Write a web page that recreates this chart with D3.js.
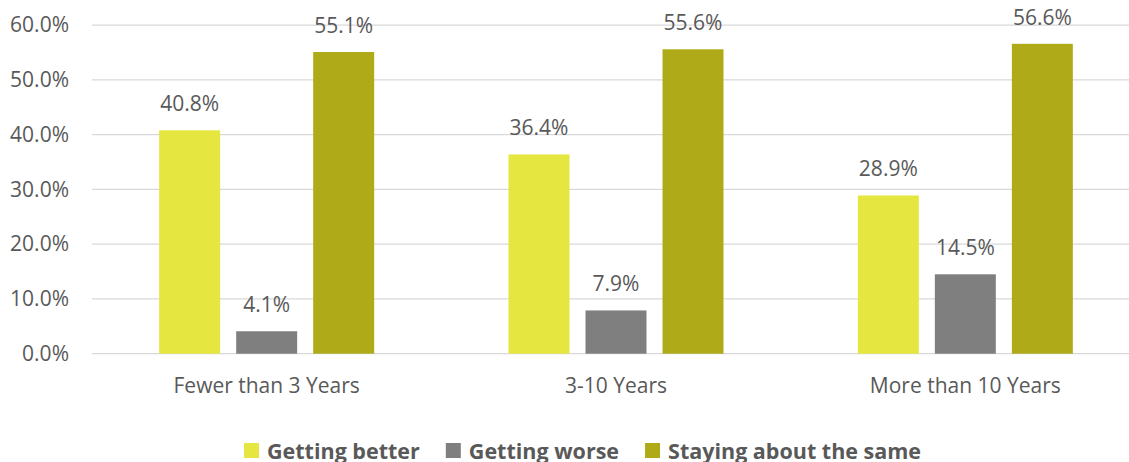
<!DOCTYPE html>
<html>
<head>
<meta charset="utf-8">
<script src="https://cdn.jsdelivr.net/npm/d3@7/dist/d3.min.js"></script>
<style>
  html, body { margin: 0; padding: 0; background: #fff; }
  svg { display: block; }
  text { font-family: "Open Sans", sans-serif; fill: #595959; }
</style>
</head>
<body>
<svg id="chart" width="1129" height="462"></svg>
<script>
const categories = ["Fewer than 3 Years", "3-10 Years", "More than 10 Years"];
const seriesNames = ["Getting better", "Getting worse", "Staying about the same"];
const gettingBetter = [40.8, 36.4, 28.9];
const gettingWorse = [4.1, 7.9, 14.5];
const stayingSame = [55.1, 55.6, 56.6];
const yTicks = [0, 10, 20, 30, 40, 50, 60];
const colors = ["#E6E640", "#7F7F7F", "#AFAA18"];

const seriesValues = [gettingBetter, gettingWorse, stayingSame];
const rows = categories.map((c, i) => ({
  category: c,
  values: seriesNames.map((s, j) => ({ series: s, value: seriesValues[j][i], color: colors[j] }))
}));

const svg = d3.select("#chart");
const plotLeft = 92, plotRight = 1140, plotTop = 25.2, plotBottom = 353.7;
const fontSize = "21px";

const x0 = d3.scaleBand().domain(categories).range([plotLeft, plotRight]).paddingInner(0).paddingOuter(0);
const groupWidth = 215;
const x1 = d3.scaleBand().domain(seriesNames).range([0, groupWidth]).paddingInner(0.208).paddingOuter(0);
const y = d3.scaleLinear().domain([0, 60]).range([plotBottom, plotTop]);

// Horizontal gridlines
svg.append("g")
  .selectAll("line")
  .data(yTicks)
  .join("line")
  .attr("x1", plotLeft).attr("x2", plotRight)
  .attr("y1", d => y(d)).attr("y2", d => y(d))
  .attr("stroke", "#D9D9D9").attr("stroke-width", 1.3);

// Y axis labels
const yAxis = d3.axisLeft(y).tickValues(yTicks).tickFormat(d => d.toFixed(1) + "%").tickSize(0).tickPadding(23);
const yg = svg.append("g").attr("transform", `translate(${plotLeft},0)`).call(yAxis);
yg.select(".domain").remove();
yg.selectAll("text").style("font-size", fontSize).attr("fill", "#595959").style("font-family", "'Open Sans', sans-serif");

// X axis labels
const xAxis = d3.axisBottom(x0).tickSize(0).tickPadding(24);
const xg = svg.append("g").attr("transform", `translate(0,${plotBottom})`).call(xAxis);
xg.select(".domain").remove();
xg.selectAll("text").style("font-size", fontSize).attr("fill", "#595959").style("font-family", "'Open Sans', sans-serif");

// Bars
const groups = svg.append("g")
  .selectAll("g")
  .data(rows)
  .join("g")
  .attr("transform", d => `translate(${x0(d.category) + (x0.bandwidth() - groupWidth) / 2},0)`);

groups.selectAll("rect")
  .data(d => d.values)
  .join("rect")
  .attr("x", d => x1(d.series))
  .attr("width", x1.bandwidth())
  .attr("y", d => y(d.value))
  .attr("height", d => y(0) - y(d.value))
  .attr("fill", d => d.color);

// Value labels
groups.selectAll("text.value")
  .data(d => d.values)
  .join("text")
  .attr("class", "value")
  .attr("x", d => x1(d.series) + x1.bandwidth() / 2)
  .attr("y", d => y(d.value) - 19)
  .attr("text-anchor", "middle")
  .style("font-size", fontSize)
  .text(d => d.value.toFixed(1) + "%");

// Legend
const legend = svg.append("g").attr("transform", "translate(244,0)");
let lx = 0;
seriesNames.forEach((s, i) => {
  const item = legend.append("g").attr("transform", `translate(${lx},0)`);
  item.append("rect").attr("x", 0).attr("y", 443).attr("width", 15).attr("height", 15).attr("fill", colors[i]);
  const t = item.append("text").attr("x", 23).attr("y", 458.5)
    .style("font-size", "21.5px").style("font-weight", "bold").text(s);
  lx += 23 + t.node().getComputedTextLength() + 26;
});
</script>
</body>
</html>
